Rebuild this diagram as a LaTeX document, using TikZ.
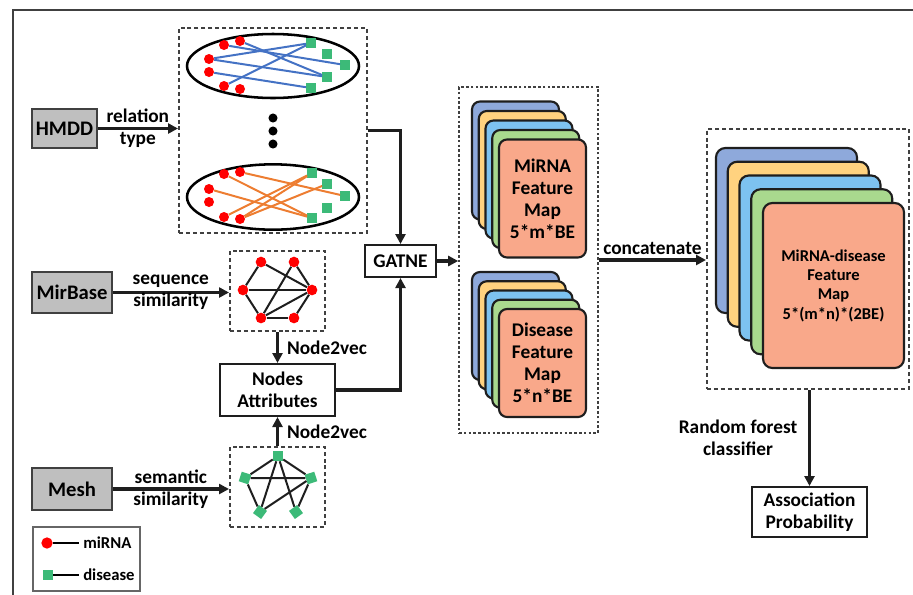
\documentclass[tikz,border=0pt]{standalone}
\usepackage{fontspec}
\setmainfont{Carlito}
\usetikzlibrary{arrows.meta, positioning, calc}
\definecolor{boxGray}{RGB}{191,191,191}
\definecolor{lineDark}{RGB}{30,30,30}
\definecolor{dashGray}{RGB}{64,64,64}
\definecolor{mirRed}{RGB}{255,0,0}
\definecolor{disGreen}{RGB}{60,186,120}
\definecolor{edgeBlue}{RGB}{68,114,196}
\definecolor{edgeOrange}{RGB}{237,125,49}
\definecolor{cardBlue}{RGB}{142,169,219}
\definecolor{cardYellow}{RGB}{255,210,127}
\definecolor{cardSky}{RGB}{125,194,240}
\definecolor{cardGreen}{RGB}{169,217,142}
\definecolor{cardSalmon}{RGB}{249,168,138}

\begin{document}
\begin{tikzpicture}[
            x=0.75pt, y=-0.75pt,
            >={Triangle[length=7.5pt, width=7.5pt]}, % filled tips
            font=\bfseries\fontsize{14.5}{16.5}\selectfont,
            % --- boxes ---
            source/.style={
                rectangle,
                draw=dashGray,
                line width=0.9pt,
                fill=boxGray,
                minimum width=60pt,
                minimum height=30.75pt,
                inner sep=0pt,
                font=\bfseries\fontsize{15.5}{17}\selectfont
            },
            plain/.style={
                rectangle,
                draw=lineDark,
                line width=1.5pt,
                fill=white,
                align=center,
                inner sep=0pt
            },
            panel/.style={
                rectangle,
                draw=dashGray,
                line width=1.5pt,
                dash pattern=on 3pt off 2.2pt,
                inner sep=0pt
            },
            card/.style={
                rectangle,
                rounded corners=6pt,
                draw=lineDark,
                line width=1.6pt,
                align=center,
                inner sep=0pt
            },
            % --- graph vertices ---
            mirna/.style={circle, fill=mirRed, minimum size=7.5pt, inner sep=0pt},
            disease/.style={rectangle, fill=disGreen, minimum size=7pt, inner sep=0pt},
            gedge/.style={line width=1.5pt, draw=lineDark},
            % --- connectors ---
            flow/.style={draw=lineDark, line width=2.3pt, ->},
            lbl/.style={align=center, inner sep=0pt}
        ]
        \useasboundingbox (0,0) rectangle (913,594);

        % --- Outer frame ---
        \draw[dashGray, line width=1pt] (13,600) -- (13,10) -- (920,10);

        % --- Panels ---
        \node[panel, minimum width=141pt, minimum height=153.75pt] (relbox) at (273,130.5) {};
        \node[panel, minimum width=71.25pt, minimum height=60pt] (seqbox) at (277.5,291) {};
        \node[panel, minimum width=71.25pt, minimum height=60pt] (sembox) at (277.5,487) {};
        \node[panel, line width=1.2pt, dash pattern=on 2pt off 1.6pt,
              minimum width=104.25pt, minimum height=259.5pt] (featbox) at (528.5,260) {};
        \node[panel, minimum width=151.5pt, minimum height=195pt] (catbox) at (808,259) {};

        % --- Relation layers ---
        \draw[line width=1.9pt] (273,66) ellipse [x radius=64.5pt, y radius=24pt];
        \draw[line width=1.9pt] (273,197) ellipse [x radius=64.5pt, y radius=24.5pt];
        \foreach \y in {118,131,144}
            \fill (273,\y) circle [radius=3.4pt];

        \foreach \n/\x/\y in {1/224/45, 2/240/41, 3/209/59, 4/209/72, 5/224/86, 6/240/89}
            \node[mirna] (ra\n) at (\x,\y) {};
        \foreach \n/\x/\y in {1/311/43, 2/327/54, 3/345/65, 4/327/77, 5/311/88}
            \node[disease] (da\n) at (\x,\y) {};
        \foreach \s/\t in {1/3, 2/4, 3/1, 3/4, 4/5, 5/1}
            \draw[line width=1.5pt, edgeBlue] (ra\s) -- (da\t);

        \foreach \n/\x/\y in {1/224/174, 2/240/172, 3/209/189, 4/209/202, 5/224/217, 6/240/219}
            \node[mirna] (rb\n) at (\x,\y) {};
        \foreach \n/\x/\y in {1/312/173, 2/327/184, 3/345/196, 4/327/208, 5/312/218}
            \node[disease] (db\n) at (\x,\y) {};
        \foreach \s/\t in {2/3, 1/5, 3/5, 5/1, 6/1, 6/2}
            \draw[line width=1.5pt, edgeOrange] (rb\s) -- (db\t);

        % --- Sequence graph ---
        \foreach \n/\x/\y in {1/261/262, 2/294/262, 3/312/290, 4/294/318, 5/261/318, 6/243/290}
            \node[mirna, minimum size=8pt] (s\n) at (\x,\y) {};
        \foreach \s/\t in {1/6, 6/5, 5/4, 4/3, 3/2, 1/3, 6/3, 5/2, 5/3}
            \draw[gedge] (s\s) -- (s\t);

        % --- Semantic graph ---
        \foreach \n/\x/\y/\r in {1/278/456/0, 2/245/478/72, 3/311/478/-72, 4/260/512/144, 5/296/512/-144}
            \node[disease, minimum size=7.5pt, rotate=\r] (m\n) at (\x,\y) {};
        \foreach \s/\t in {1/2, 1/3, 2/3, 1/4, 1/5, 2/4, 3/5, 4/3}
            \draw[gedge] (m\s) -- (m\t);

        % --- Sources ---
        \node[source, minimum width=48.75pt, minimum height=29.25pt] (hmdd) at (64.5,128.5) {HMDD};
        \node[source] (mirbase) at (72,292.5) {MirBase};
        \node[source, minimum height=31.5pt] (mesh) at (72,489) {Mesh};

        \node[plain, minimum width=53.25pt, minimum height=24pt] (gatne) at (400.5,261) {GATNE};
        \node[plain, minimum width=86.25pt, minimum height=39pt] (attr) at (277.5,390) {Nodes\\Attributes};
        \node[plain, minimum width=86.25pt, minimum height=37.5pt] (assoc) at (809.5,512) {Association\\Probability};

        % --- Feature map stacks ---
        \foreach \c [count=\i from 0] in {cardBlue,cardYellow,cardSky,cardGreen}
            \node[card, fill=\c, minimum width=65.25pt, minimum height=88.5pt] (mcard\i) at (515.5+6.75*\i,160.5+9.5*\i) {};
        \node[card, fill=cardSalmon, minimum width=65.25pt, minimum height=88.5pt] (mfeat) at (542.5,198.5) {MiRNA\\Feature\\Map\\5*m*BE};

        \foreach \c [count=\i from 0] in {cardBlue,cardYellow,cardSky,cardGreen}
            \node[card, fill=\c, minimum width=65.25pt, minimum height=81pt] (dcard\i) at (515.5+6.75*\i,326+9.25*\i) {};
        \node[card, fill=cardSalmon, minimum width=65.25pt, minimum height=81pt] (dfeat) at (542.5,363) {Disease\\Feature\\Map\\5*n*BE};

        \foreach \c [count=\i from 0] in {cardBlue,cardYellow,cardSky,cardGreen}
            \node[card, rounded corners=7pt, fill=\c, minimum width=105.75pt, minimum height=123.75pt] (ccard\i) at (786.5+11.75*\i,230.5+13.75*\i) {};
        \node[card, rounded corners=7pt, fill=cardSalmon, minimum width=105.75pt, minimum height=123.75pt,
              font=\bfseries\fontsize{12.4}{14.5}\selectfont] (cfeat) at (833.5,285.5) {MiRNA-disease\\Feature\\Map\\5*(m*n)*(2BE)};

        % --- Edges ---
        \draw[flow] (hmdd.east) -- node[lbl] {relation\\type} (hmdd.east -| relbox.west);
        \draw[flow] (mirbase.east) -- node[lbl] {sequence\\similarity} (mirbase.east -| seqbox.west);
        \draw[flow] (mesh.east) -- node[lbl] {semantic\\similarity} (mesh.east -| sembox.west);
        \draw[flow] (relbox.east) -| (gatne.north);
        \draw[flow] (attr.east) -| (gatne.south);
        \draw[flow] (gatne.east) -- (gatne.east -| featbox.west);
        \draw[flow] (seqbox.south) -- node[lbl, right=6pt] {Node2vec} (attr.north);
        \draw[flow] (sembox.north) -- node[lbl, right=6pt] {Node2vec} (attr.south);
        \draw[flow] (featbox.east) -- node[lbl, above=3pt] {concatenate} (featbox.east -| catbox.west);
        \draw[flow] (assoc.north |- catbox.south) -- node[lbl, left=8pt] {Random forest\\classifier} (assoc.north);

        % --- Legend ---
        \node[rectangle, draw=dashGray!80, line width=0.8pt, minimum width=80.25pt, minimum height=48pt] (legend) at (86.5,559) {};
        \node[mirna, minimum size=8.5pt] (lgmirna) at (47,543) {};
        \node[disease, minimum size=7.5pt] (lgdisease) at (48,575) {};
        \node[anchor=west, inner sep=0pt, font=\bfseries\fontsize{12.5}{15}\selectfont] (lgmtext) at (83,543) {miRNA};
        \node[anchor=west, inner sep=0pt, font=\bfseries\fontsize{12.5}{15}\selectfont] (lgdtext) at (83,575) {disease};
        \draw[line width=1pt] (lgmirna) -- ([xshift=-3pt]lgmtext.west);
        \draw[line width=1pt] (lgdisease) -- ([xshift=-3pt]lgdtext.west);

        \end{tikzpicture}
\end{document}
